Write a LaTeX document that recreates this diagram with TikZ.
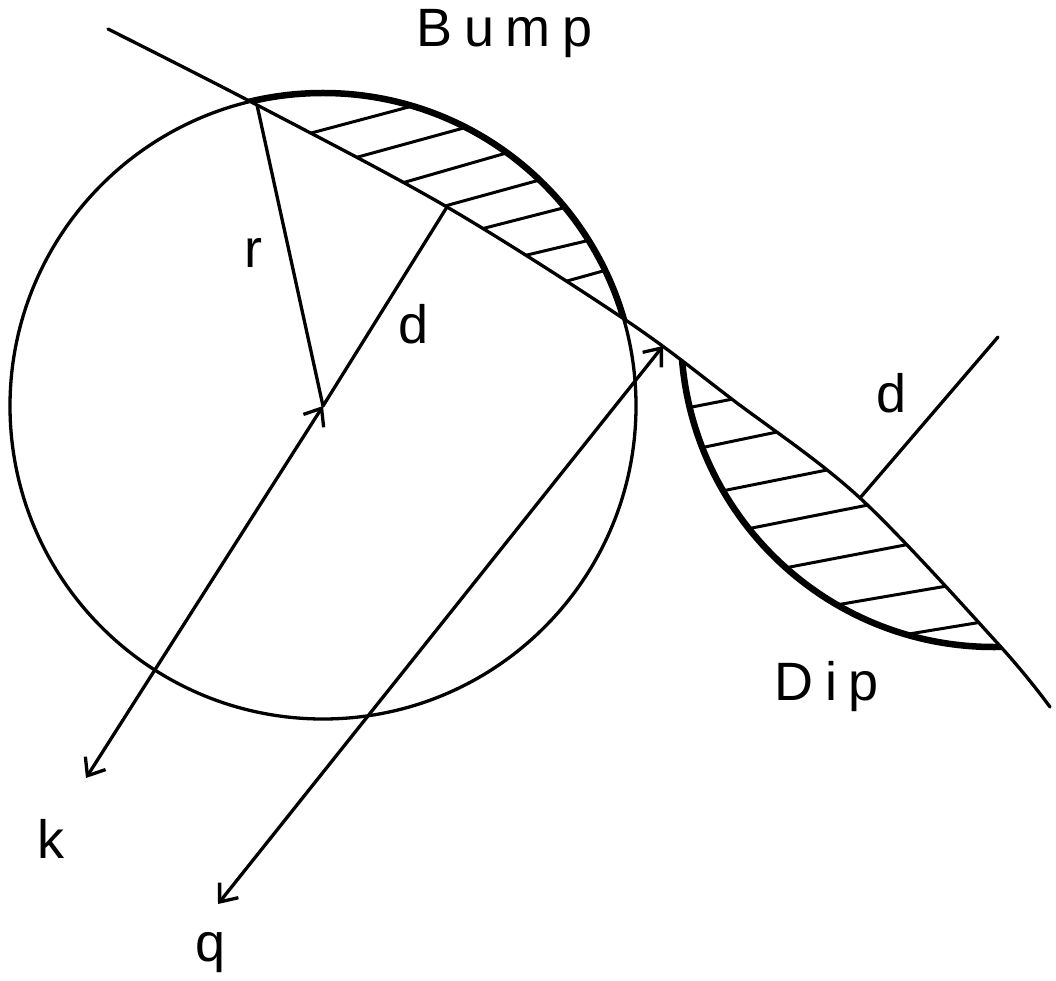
\documentclass[tikz,border=0pt]{standalone}
\usepackage{fontspec}
\setmainfont{Liberation Sans}
\usetikzlibrary{arrows.meta,calc}
\begin{document}
\begin{tikzpicture}[x=1pt,y=1pt,
  thinline/.style={line width=3.3pt, line cap=round},
  thickarc/.style={line width=6.5pt},
  hatchline/.style={line width=3pt, line cap=round},
  lbl/.style={inner sep=0pt, anchor=base west, font=\fontsize{54}{60}\selectfont\addfontfeature{LetterSpace=22}},
  >={Straight Barb[length=15pt,width=24pt]}]
\useasboundingbox (0,0) rectangle (1056,-981);

\coordinate (C) at (323,-406);
\coordinate (R0) at (257,-105);
\coordinate (F) at (447,-207);
\coordinate (K) at (86,-778);
\coordinate (Q1) at (663,-346);
\coordinate (Q2) at (218,-904);
\coordinate (D1) at (860,-498);
\coordinate (D2) at (998,-337);
\coordinate (DC) at (994,-334);

% surface
\draw[thinline] plot[smooth,tension=0.55] coordinates {(108,-29) (257,-105) (447,-207) (627,-321) (733,-400) (860,-498) (1000,-646) (1050,-707)};

% circle
\draw[line width=3.3pt] (C) circle[radius=313];

% bump
\begin{scope}
  \clip plot[smooth,tension=0.55] coordinates {(108,-29) (257,-105) (447,-207) (627,-321) (733,-400) (860,-498) (1000,-646) (1050,-707)} -- (1100,-707) -- (1100,20) -- (100,20) -- cycle;
  \draw[thickarc] (C) circle[radius=313];
  \clip (C) circle[radius=313];
  \foreach \a/\b/\c/\d in {315/132/405/108, 358/157/460/129, 402/183/503/154, 445/206/536/181, 485/228/563/208, 527/255/586/241, 567/281/603/271}
    \draw[hatchline] ($(\a,-\b)!-1!(\c,-\d)$) -- ($(\a,-\b)!2!(\c,-\d)$);
\end{scope}

% dip
\begin{scope}
  \clip plot[smooth,tension=0.55] coordinates {(108,-29) (257,-105) (447,-207) (627,-321) (733,-400) (860,-498) (1000,-646) (1050,-707)} -- (1100,-1000) -- (-20,-1000) -- (-20,-29) -- cycle;
  \draw[thickarc] (DC) circle[radius=313];
  \clip (DC) circle[radius=313];
  \foreach \a/\b/\c/\d in {692/407/733/399, 705/447/777/432, 727/490/822/471, 752/528/863/506, 790/567/905/545, 842/604/947/586, 915/633/982/622}
    \draw[hatchline] ($(\a,-\b)!-1!(\c,-\d)$) -- ($(\a,-\b)!2!(\c,-\d)$);
\end{scope}

% vectors
\draw[thinline] (R0) -- (C);
\draw[thinline] (C) -- (F);
\draw[thinline,<->] (K) -- (C);
\draw[thinline,<->] (Q2) -- (Q1);
\draw[thinline] (D1) -- (D2);

% labels
\node[lbl] (bump) at (416,-47) {Bump};
\node[lbl] (rl) at (244,-268) {r};
\node[lbl] (dl) at (398,-343) {d};
\node[lbl] (dr) at (876,-412) {d};
\node[lbl] (dip) at (774,-700) {Dip};
\node[lbl] (kl) at (37,-858) {k};
\node[lbl] (ql) at (195,-961) {q};
\end{tikzpicture}
\end{document}
